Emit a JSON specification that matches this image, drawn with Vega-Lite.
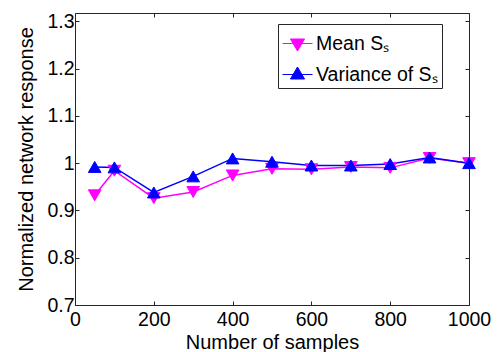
{
  "$schema": "https://vega.github.io/schema/vega-lite/v6.json",
  "autosize": "none",
  "padding": {"left": 75, "top": 13, "right": 30, "bottom": 47},
  "width": 394,
  "height": 292,
  "background": "white",
  "config": {
    "view": {"stroke": null},
    "font": "Liberation Sans",
    "axis": {
      "grid": false,
      "domainColor": "#262626",
      "domainWidth": 1,
      "tickColor": "#262626",
      "tickSize": -4,
      "labelFont": "Liberation Sans",
      "labelFontSize": 19.5,
      "labelColor": "black",
      "titleFont": "Liberation Sans",
      "titleFontSize": 20,
      "titleFontWeight": "normal",
      "titleColor": "black"
    }
  },
  "data": {
    "values": [
      {"n": 50, "series": "Mean Sₛ", "value": 0.932},
      {"n": 100, "series": "Mean Sₛ", "value": 0.984},
      {"n": 200, "series": "Mean Sₛ", "value": 0.926},
      {"n": 300, "series": "Mean Sₛ", "value": 0.939},
      {"n": 400, "series": "Mean Sₛ", "value": 0.974},
      {"n": 500, "series": "Mean Sₛ", "value": 0.988},
      {"n": 600, "series": "Mean Sₛ", "value": 0.987},
      {"n": 700, "series": "Mean Sₛ", "value": 0.992},
      {"n": 800, "series": "Mean Sₛ", "value": 0.99},
      {"n": 900, "series": "Mean Sₛ", "value": 1.011},
      {"n": 1000, "series": "Mean Sₛ", "value": 1.0},
      {"n": 50, "series": "Variance of Sₛ", "value": 0.992},
      {"n": 100, "series": "Variance of Sₛ", "value": 0.991},
      {"n": 200, "series": "Variance of Sₛ", "value": 0.938},
      {"n": 300, "series": "Variance of Sₛ", "value": 0.972},
      {"n": 400, "series": "Variance of Sₛ", "value": 1.01},
      {"n": 500, "series": "Variance of Sₛ", "value": 1.003},
      {"n": 600, "series": "Variance of Sₛ", "value": 0.995},
      {"n": 700, "series": "Variance of Sₛ", "value": 0.995},
      {"n": 800, "series": "Variance of Sₛ", "value": 0.998},
      {"n": 900, "series": "Variance of Sₛ", "value": 1.012},
      {"n": 1000, "series": "Variance of Sₛ", "value": 1.0}
    ]
  },
  "layer": [
    {
      "mark": {"type": "line", "strokeWidth": 1.5},
      "encoding": {
        "x": {
          "field": "n", "type": "quantitative",
          "scale": {"domain": [0, 1000], "nice": false},
          "axis": {"orient": "bottom", "title": "Number of samples", "values": [0, 200, 400, 600, 800, 1000], "format": "d", "labelPadding": 9, "titlePadding": 4, "labelFlush": false}
        },
        "y": {
          "field": "value", "type": "quantitative",
          "scale": {"domain": [0.7, 1.3175], "nice": false, "zero": false},
          "axis": {"orient": "left", "title": "Normalized network response", "values": [0.7, 0.8, 0.9, 1.0, 1.1, 1.2, 1.3], "format": "~g", "labelPadding": 5, "titlePadding": 10, "labelFlush": false}
        },
        "color": {
          "field": "series", "type": "nominal",
          "scale": {"domain": ["Mean Sₛ", "Variance of Sₛ"], "range": ["#ff00ff", "#0000ff"]},
          "legend": {
            "title": null,
            "orient": "none",
            "legendX": 203,
            "legendY": 11,
            "padding": 4,
            "strokeColor": "#262626",
            "fillColor": "white",
            "cornerRadius": 0,
            "rowPadding": 6,
            "symbolSize": 900,
            "labelOffset": 3,
            "labelFont": "Liberation Sans",
            "labelFontSize": 19.5,
            "labelColor": "black",
            "symbolStrokeWidth": 1,
            "encode": {
              "symbols": {
                "update": {
                  "shape": {"signal": "indexof(datum.value, 'Mean') == 0 ? 'M-1,0H1M-0.47,-0.3H0.47L0,0.5Z' : 'M-1,0H1M-0.47,0.3H0.47L0,-0.5Z'"},
                  "fill": {"signal": "indexof(datum.value, 'Mean') == 0 ? '#ff00ff' : '#0000ff'"},
                  "stroke": {"signal": "indexof(datum.value, 'Mean') == 0 ? '#ff00ff' : '#0000ff'"},
                  "opacity": {"value": 1},
                  "fillOpacity": {"value": 1},
                  "strokeWidth": {"value": 1}
                }
              }
            }
          }
        }
      }
    },
    {
      "transform": [{"filter": "datum.series == 'Mean Sₛ'"}],
      "mark": {"type": "point", "filled": true, "shape": "triangle-down", "size": 160, "opacity": 1, "strokeWidth": 1, "fill": "#ff00ff", "stroke": "#ff00ff"},
      "encoding": {
        "x": {"field": "n", "type": "quantitative", "axis": null},
        "y": {"field": "value", "type": "quantitative", "axis": null}
      }
    },
    {
      "transform": [{"filter": "datum.series == 'Variance of Sₛ'"}],
      "mark": {"type": "point", "filled": true, "shape": "triangle-up", "size": 160, "opacity": 1, "strokeWidth": 1, "fill": "#0000ff", "stroke": "#0000ff"},
      "encoding": {
        "x": {
          "field": "n", "type": "quantitative",
          "axis": {"orient": "top", "title": null, "labels": false, "values": [0, 200, 400, 600, 800, 1000]}
        },
        "y": {
          "field": "value", "type": "quantitative",
          "axis": {"orient": "right", "title": null, "labels": false, "values": [0.7, 0.8, 0.9, 1.0, 1.1, 1.2, 1.3]}
        }
      }
    }
  ],
  "resolve": {"axis": {"x": "independent", "y": "independent"}}
}
